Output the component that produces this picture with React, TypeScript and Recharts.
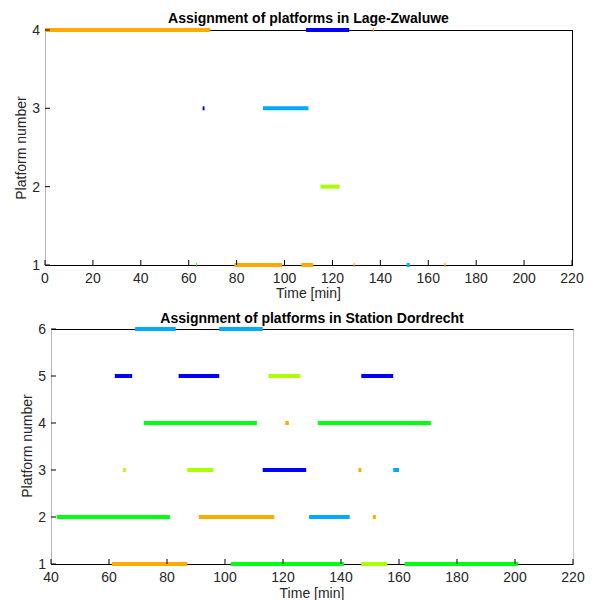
import React from 'react';
import { ComposedChart, Line, XAxis, YAxis } from 'recharts';

// ---- Lage-Zwaluwe (top) ----
const lzStart = [0, 109, 136.8, 65.8, 91, 115, 63.0, 79, 107, 128.8, 151, 166.8];
const lzEnd = [69, 127, 137.3, 66.6, 110, 123, 63.4, 99, 112, 129.3, 152.3, 167.3];
const lzPlatform = [4, 4, 4, 3, 3, 2, 1, 1, 1, 1, 1, 1];
const lzTrain = ['orange', 'blue', 'orange', 'blue', 'sky', 'lime', 'green', 'orange', 'orange', 'orange', 'sky', 'orange'];
const lzTimeTicks = [0, 20, 40, 60, 80, 100, 120, 140, 160, 180, 200, 220];
const lzPlatformTicks = [1, 2, 3, 4];

// ---- Station Dordrecht (bottom) ----
const ddStart = [69, 98, 62, 84, 115, 147, 72, 120.8, 132, 64.9, 87, 113, 146, 158, 42, 91, 129, 151, 61, 102, 147, 162];
const ddEnd = [83, 113, 68, 98, 126, 158, 111, 122, 171, 65.8, 96, 128, 147, 160, 81, 117, 143, 152, 87, 141, 156, 201];
const ddPlatform = [6, 6, 5, 5, 5, 5, 4, 4, 4, 3, 3, 3, 3, 3, 2, 2, 2, 2, 1, 1, 1, 1];
const ddTrain = ['sky', 'sky', 'blue', 'blue', 'lime', 'blue', 'green', 'orange', 'green', 'lime', 'lime', 'blue', 'orange', 'sky', 'green', 'orange', 'sky', 'orange', 'orange', 'green', 'lime', 'green'];
const ddTimeTicks = [40, 60, 80, 100, 120, 140, 160, 180, 200, 220];
const ddPlatformTicks = [1, 2, 3, 4, 5, 6];

const palette: Record<string, string> = {
  orange: '#FFAA00',
  blue: '#0000FF',
  sky: '#00AAFF',
  lime: '#AAFF00',
  green: '#00FF11',
};

const FONT = '"Liberation Sans", Arial, Helvetica, sans-serif';
const TXT = '#262626';

const BottomTick = (props: any) => {
  const { x, y, payload } = props;
  return (
    <g>
      <line x1={x} x2={x} y1={y} y2={y - 5} stroke="#000" strokeWidth={1} />
      <text x={x} y={y + 18} textAnchor="middle" fill={TXT} fontSize={14} fontFamily={FONT}>
        {payload.value}
      </text>
    </g>
  );
};
const TopTick = (props: any) => {
  const { x, y } = props;
  return <line x1={x} x2={x} y1={y} y2={y + 5} stroke="#000" strokeWidth={1} />;
};
const LeftTick = (props: any) => {
  const { x, y, payload } = props;
  return (
    <g>
      <line x1={x} x2={x + 5} y1={y} y2={y} stroke="#000" strokeWidth={1} />
      <text x={x - 5} y={y + 5} textAnchor="end" fill={TXT} fontSize={14} fontFamily={FONT}>
        {payload.value}
      </text>
    </g>
  );
};
const RightTick = (props: any) => {
  const { x, y } = props;
  return <line x1={x} x2={x - 5} y1={y} y2={y} stroke="#000" strokeWidth={1} />;
};

const W = 595;
const H = 300;
const XH = 30;

function PlatformChart(props: {
  start: number[]; end: number[]; platform: number[]; train: string[];
  xTicks: number[]; yTicks: number[];
  margin: { top: number; right: number; bottom: number; left: number };
  yWidth: number; leftColor: string; rightColor: string;
}) {
  const { start, end, platform, train, xTicks, yTicks, margin, yWidth, leftColor, rightColor } = props;
  const xDomain: [number, number] = [xTicks[0], xTicks[xTicks.length - 1]];
  const yDomain: [number, number] = [yTicks[0], yTicks[yTicks.length - 1]];
  const plotW = W - yWidth - margin.right;
  const plotH = H - margin.top - margin.bottom - XH;
  return (
    <div style={{ position: 'relative', width: W, height: H }}>
      <div
        style={{
          position: 'absolute',
          left: yWidth,
          top: margin.top,
          width: plotW + 1,
          height: plotH + 1,
          boxSizing: 'border-box',
          borderTop: '1px solid #000',
          borderBottom: '1px solid #000',
          borderLeft: `1px solid ${leftColor}`,
          borderRight: `1px solid ${rightColor}`,
        }}
      />
      <ComposedChart width={W} height={H} margin={margin}>
        <XAxis xAxisId="b" type="number" dataKey="t" domain={xDomain} ticks={xTicks} orientation="bottom"
          height={XH} tickSize={0} tickMargin={0} tickLine={false} tick={<BottomTick />}
          axisLine={false} interval={0} />
        <XAxis xAxisId="t" type="number" dataKey="t" domain={xDomain} ticks={xTicks} orientation="top"
          height={0} tickSize={0} tickMargin={0} tickLine={false} tick={<TopTick />}
          axisLine={false} interval={0} />
        <YAxis yAxisId="l" type="number" domain={yDomain} ticks={yTicks} orientation="left"
          width={yWidth} tickSize={0} tickMargin={0} tickLine={false} tick={<LeftTick />}
          axisLine={false} interval={0} />
        <YAxis yAxisId="r" type="number" domain={yDomain} ticks={yTicks} orientation="right"
          width={0} tickSize={0} tickMargin={0} tickLine={false} tick={<RightTick />}
          axisLine={false} interval={0} />
        {start.map((s, i) => (
          <Line
            key={i}
            xAxisId="b"
            yAxisId="l"
            data={[{ t: s, p: platform[i] }, { t: end[i], p: platform[i] }]}
            dataKey="p"
            type="linear"
            stroke={palette[train[i]]}
            strokeWidth={4}
            strokeLinecap="butt"
            dot={false}
            activeDot={false}
            isAnimationActive={false}
          />
        ))}
      </ComposedChart>
    </div>
  );
}

export default function App() {
  return (
    <div style={{ position: 'absolute', left: 0, top: 0, width: 595, height: 600, background: '#fff', overflow: 'hidden' }}>
      <div style={{ position: 'absolute', left: 0, top: 0 }}>
        <PlatformChart start={lzStart} end={lzEnd} platform={lzPlatform} train={lzTrain}
          xTicks={lzTimeTicks} yTicks={lzPlatformTicks}
          margin={{ top: 30, right: 23, bottom: 5, left: 0 }} yWidth={45}
          leftColor="#b4b4b4" rightColor="#000" />
      </div>
      <div style={{ position: 'absolute', left: 0, top: 300 }}>
        <PlatformChart start={ddStart} end={ddEnd} platform={ddPlatform} train={ddTrain}
          xTicks={ddTimeTicks} yTicks={ddPlatformTicks}
          margin={{ top: 29, right: 22, bottom: 6, left: 0 }} yWidth={51}
          leftColor="#b4b4b4" rightColor="#c8c8c8" />
      </div>
      <svg width={595} height={600} style={{ position: 'absolute', left: 0, top: 0, pointerEvents: 'none' }}>
        <text x={308.5} y={23} textAnchor="middle" fontWeight="bold" fontSize={14} fontFamily={FONT} fill="#000">
          Assignment of platforms in Lage-Zwaluwe
        </text>
        <text x={308.5} y={298} textAnchor="middle" fontSize={14} fontFamily={FONT} fill={TXT}>Time [min]</text>
        <text x={0} y={0} transform="translate(26,148) rotate(-90)" textAnchor="middle" fontSize={14} fontFamily={FONT} fill={TXT}>
          Platform number
        </text>
        <text x={312} y={323} textAnchor="middle" fontWeight="bold" fontSize={14} fontFamily={FONT} fill="#000">
          Assignment of platforms in Station Dordrecht
        </text>
        <text x={312} y={598} textAnchor="middle" fontSize={14} fontFamily={FONT} fill={TXT}>Time [min]</text>
        <text x={0} y={0} transform="translate(32,446) rotate(-90)" textAnchor="middle" fontSize={14} fontFamily={FONT} fill={TXT}>
          Platform number
        </text>
      </svg>
    </div>
  );
}
